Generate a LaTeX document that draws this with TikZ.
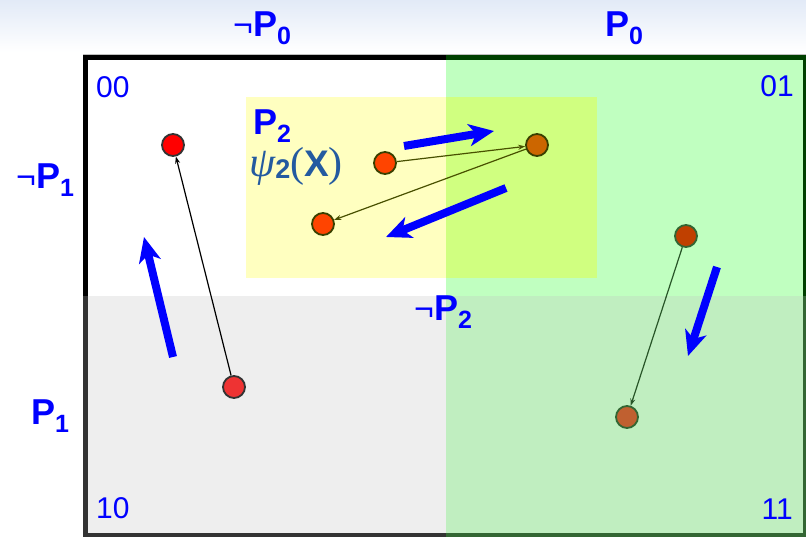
\documentclass[tikz,border=0pt]{standalone}
\usepackage{fontspec}
\setmainfont{Liberation Sans}
\newfontfamily\psifont{Liberation Serif}
\usetikzlibrary{arrows.meta}
\definecolor{bgtop}{RGB}{226,234,247}
\definecolor{qone}{RGB}{192,255,192}
\definecolor{qtwo}{RGB}{238,238,238}
\definecolor{qthree}{RGB}{192,238,192}
\definecolor{ylw}{RGB}{255,255,192}
\definecolor{ylg}{RGB}{208,255,128}
\definecolor{dkgreen}{RGB}{0,64,0}
\definecolor{dgray}{RGB}{51,51,51}
\definecolor{mgreen}{RGB}{51,102,51}
\definecolor{lblue}{RGB}{0,0,255}
\definecolor{psiblue}{RGB}{35,90,160}
\definecolor{olv}{RGB}{72,80,0}
\definecolor{dgr}{RGB}{40,85,40}
\definecolor{redA}{RGB}{255,0,0}
\definecolor{redB}{RGB}{238,51,51}
\definecolor{orC}{RGB}{255,68,0}
\definecolor{orD}{RGB}{204,102,0}
\definecolor{orF}{RGB}{192,64,0}
\definecolor{orG}{RGB}{192,96,48}
\newcommand\plab[2]{{\fontsize{36}{36}\selectfont\bfseries #1\raisebox{-8pt}{\fontsize{25}{25}\selectfont #2}}}
\newcommand\nlab[2]{{\fontsize{34}{34}\selectfont ¬}\plab{#1}{#2}}
\begin{document}
\begin{tikzpicture}[x=1pt,y=-1pt,
  dot/.style={circle, minimum size=22pt, inner sep=0pt, line width=1.8pt},
  thinarr/.style={-{Stealth[length=7pt,width=5pt]}, line width=1.2pt},
  bigarr/.style={lblue, line width=8pt, -{Stealth[length=25pt,width=22pt,inset=7pt]}},
  lab/.style={text=lblue, inner sep=0pt},
  corner/.style={text=lblue, inner sep=0pt, font=\fontsize{30}{30}\selectfont}]
\useasboundingbox (0,0) rectangle (806,536);
% background
\fill[white] (0,0) rectangle (806,536);
\shade[top color=bgtop, bottom color=white] (0,0) rectangle (806,52);
% quadrants
\fill[white] (85,57) rectangle (446,296);
\fill[qone] (446,57) rectangle (806,296);
\fill[qtwo] (85,296) rectangle (446,536);
\fill[qthree] (446,296) rectangle (806,536);
% yellow region
\fill[ylw] (246,97) rectangle (446,278);
\fill[ylg] (446,97) rectangle (597,278);
% frame
\draw[black!25, line width=0.8pt] (83,54.4) -- (806,54.4);
\draw[line width=5pt, black] (83,57.5) -- (446,57.5);
\draw[line width=5pt, dkgreen] (446,57.5) -- (806,57.5);
\draw[line width=5pt, black] (85.5,55) -- (85.5,296);
\draw[line width=5pt, dgray] (85.5,296) -- (85.5,536);
\draw[line width=5pt, dgray] (83,535.5) -- (446,535.5);
\draw[line width=5pt, mgreen] (446,535.5) -- (806,535.5);
\draw[line width=5pt, dkgreen] (805.5,60) -- (805.5,296);
\draw[line width=5pt, mgreen] (805.5,296) -- (805.5,536);
% labels
\node[lab, anchor=base west] (np0) at (233,36) {\nlab{P}{0}};
\node[lab, anchor=base west] (p0) at (605,36) {\plab{P}{0}};
\node[lab, anchor=base west] (np1) at (16,188) {\nlab{P}{1}};
\node[lab, anchor=base west] (p1) at (31,424) {\plab{P}{1}};
\node[lab, anchor=base west] (np2) at (414,320) {\nlab{P}{2}};
\node[lab, anchor=base west] (p2) at (253,134) {\plab{P}{2}};
\node[text=psiblue, inner sep=0pt, anchor=base west] (psi) at (249,176)
  {{\psifont\fontsize{42}{42}\selectfont\itshape ψ}\raisebox{-2pt}{\fontsize{27}{27}\selectfont\bfseries 2}{\psifont\fontsize{42}{42}\selectfont (}{\fontsize{37}{37}\selectfont\bfseries X}{\psifont\fontsize{42}{42}\selectfont )}};
\node[corner, anchor=base west] (c00) at (96,97) {00};
\node[corner, anchor=base east] (c01) at (794,96) {01};
\node[corner, anchor=base west] (c10) at (96,518) {10};
\node[corner, anchor=base east] (c11) at (793,519) {11};
% dots
\node[dot, fill=redA, draw=black!80] (A) at (173,145) {};
\node[dot, fill=redB, draw=black!80] (B) at (234,387) {};
\node[dot, fill=orC, draw=olv!80!black] (C) at (385,163) {};
\node[dot, fill=orD, draw=olv!80!black] (D) at (537,145) {};
\node[dot, fill=orC, draw=olv!80!black] (E) at (323,224) {};
\node[dot, fill=orF, draw=dkgreen!80] (F) at (686,236) {};
\node[dot, fill=orG, draw=mgreen] (G) at (627,417) {};
% thin arrows
\draw[thinarr, black] (B) -- (A);
\draw[thinarr, olv] (C) -- (D);
\draw[thinarr, olv] (D) -- (E);
\draw[thinarr, dgr] (F) -- (G);
% big blue arrows
\coordinate (a1s) at (173,357); \coordinate (a1e) at (144,237);
\coordinate (a2s) at (404,146); \coordinate (a2e) at (494,131);
\coordinate (a3s) at (506,188); \coordinate (a3e) at (386,237);
\coordinate (a4s) at (717,267); \coordinate (a4e) at (688,356);
\draw[bigarr] (a1s) -- (a1e);
\draw[bigarr] (a2s) -- (a2e);
\draw[bigarr] (a3s) -- (a3e);
\draw[bigarr] (a4s) -- (a4e);
\end{tikzpicture}
\end{document}
